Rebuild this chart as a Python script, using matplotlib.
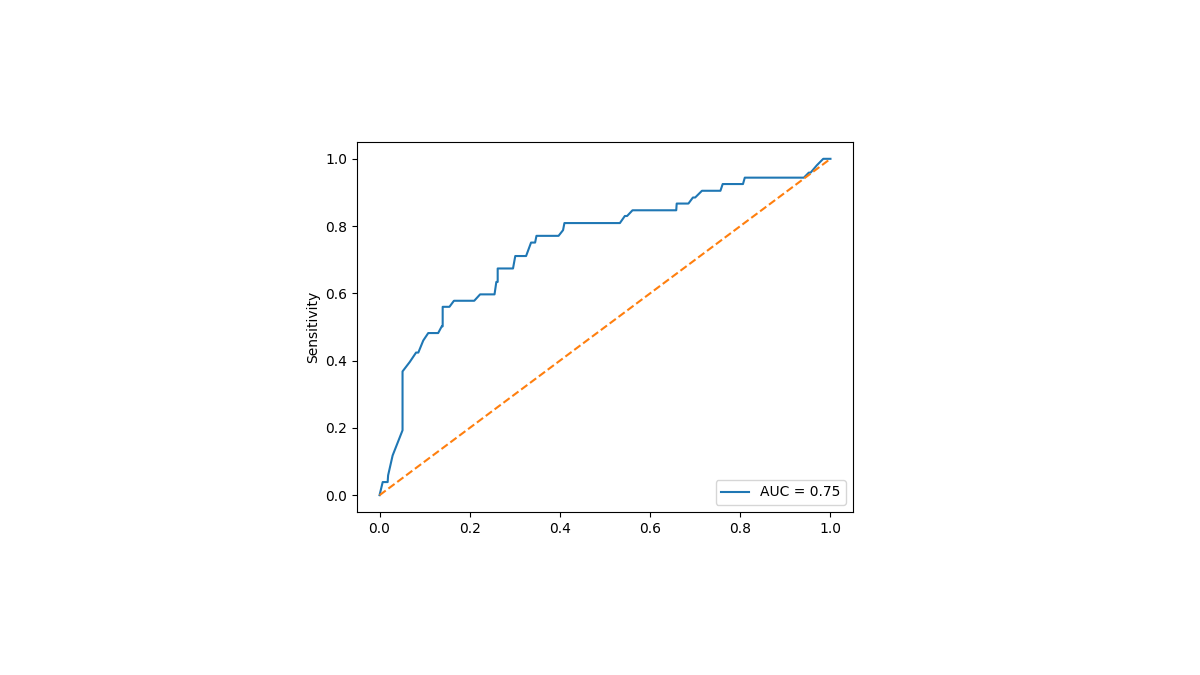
import matplotlib
matplotlib.use("Agg")
import matplotlib.pyplot as plt

# ROC curve points
fpr = [0.0, 0.007, 0.018, 0.019, 0.029, 0.051, 0.051, 0.067, 0.081, 0.086, 0.097, 0.108,
       0.130, 0.138, 0.140, 0.140, 0.155, 0.165, 0.210, 0.223, 0.255, 0.259, 0.262, 0.262,
       0.296, 0.301, 0.325, 0.336, 0.345, 0.348, 0.397, 0.407, 0.410, 0.533, 0.544, 0.549,
       0.561, 0.658, 0.659, 0.685, 0.695, 0.700, 0.715, 0.756, 0.761, 0.806, 0.810, 0.941,
       0.952, 0.956, 0.970, 0.984, 1.0]
tpr = [0.0, 0.039, 0.039, 0.059, 0.118, 0.193, 0.368, 0.396, 0.424, 0.424, 0.460, 0.482,
       0.482, 0.502, 0.502, 0.560, 0.560, 0.578, 0.578, 0.597, 0.597, 0.634, 0.634, 0.674,
       0.674, 0.711, 0.711, 0.751, 0.751, 0.771, 0.771, 0.788, 0.809, 0.809, 0.830, 0.830,
       0.847, 0.847, 0.867, 0.867, 0.885, 0.885, 0.905, 0.905, 0.925, 0.925, 0.944, 0.944,
       0.959, 0.959, 0.981, 1.0, 1.0]
auc_value = 0.75

fig = plt.figure(figsize=(12, 6.75), dpi=100)
ax = fig.add_axes([357 / 1200, 1 - 512 / 675, 496 / 1200, 370 / 675])

ax.plot(fpr, tpr, color="tab:blue", label="AUC = %.2f" % auc_value)
ax.plot([0, 1], [0, 1], color="tab:orange", linestyle="--")
ax.set_ylabel("Sensitivity")
ax.legend(loc="lower right")

fig.savefig("out.png", dpi=100)
